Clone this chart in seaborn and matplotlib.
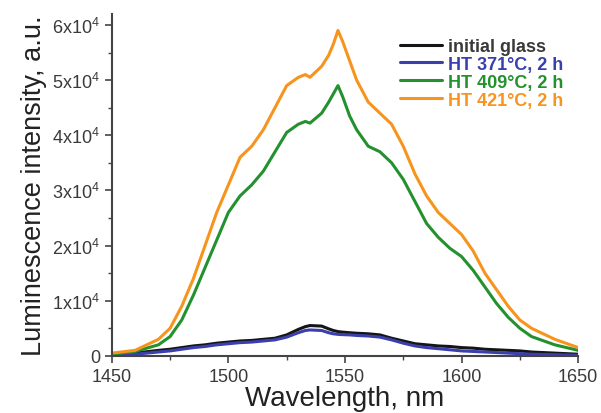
import numpy as np
import pandas as pd
import seaborn as sns
import matplotlib
matplotlib.use("Agg")
import matplotlib.pyplot as plt
from matplotlib.ticker import FixedLocator, MultipleLocator

sns.set_theme(style="white")
plt.rcParams['font.family'] = ['Liberation Sans', 'DejaVu Sans']
plt.rcParams['mathtext.fontset'] = 'custom'
plt.rcParams['mathtext.rm'] = 'Liberation Sans'
plt.rcParams['mathtext.it'] = 'Liberation Sans'

wl = [1450, 1460, 1470, 1475, 1480, 1485, 1490, 1495, 1500, 1505, 1510, 1515,
      1520, 1525, 1530, 1533, 1535, 1540, 1543, 1545, 1547, 1549, 1552, 1555,
      1560, 1565, 1570, 1575, 1580, 1585, 1590, 1595, 1600, 1605, 1610, 1615,
      1620, 1625, 1630, 1640, 1650]
orange = [0.05, 0.1, 0.3, 0.5, 0.9, 1.4, 2.0, 2.6, 3.1, 3.6, 3.8, 4.1,
          4.5, 4.9, 5.05, 5.1, 5.05, 5.25, 5.45, 5.65, 5.9, 5.7, 5.35, 5.0,
          4.6, 4.4, 4.2, 3.8, 3.3, 2.9, 2.6, 2.4, 2.2, 1.9, 1.5, 1.2,
          0.9, 0.65, 0.5, 0.3, 0.15]
green = [0.03, 0.08, 0.2, 0.35, 0.65, 1.1, 1.6, 2.1, 2.6, 2.9, 3.1, 3.35,
         3.7, 4.05, 4.2, 4.25, 4.22, 4.4, 4.6, 4.75, 4.9, 4.7, 4.35, 4.1,
         3.8, 3.7, 3.5, 3.2, 2.8, 2.4, 2.15, 1.95, 1.8, 1.55, 1.25, 0.95,
         0.7, 0.5, 0.35, 0.2, 0.1]
black = [0.02, 0.05, 0.1, 0.12, 0.15, 0.18, 0.2, 0.23, 0.25, 0.27, 0.28, 0.3,
         0.32, 0.38, 0.48, 0.53, 0.55, 0.54, 0.49, 0.46, 0.44, 0.43, 0.42, 0.41,
         0.4, 0.38, 0.32, 0.27, 0.22, 0.2, 0.18, 0.17, 0.15, 0.14, 0.12, 0.11,
         0.1, 0.09, 0.07, 0.05, 0.03]
blue = [0.01, 0.03, 0.07, 0.09, 0.12, 0.15, 0.17, 0.2, 0.22, 0.24, 0.25, 0.27,
        0.29, 0.34, 0.42, 0.46, 0.47, 0.46, 0.42, 0.4, 0.39, 0.385, 0.38, 0.37,
        0.36, 0.34, 0.29, 0.23, 0.18, 0.15, 0.13, 0.11, 0.09, 0.08, 0.07, 0.06,
        0.05, 0.04, 0.03, 0.02, 0.01]

labels = ["initial glass", "HT 371°C, 2 h", "HT 409°C, 2 h", "HT 421°C, 2 h"]
colors = ["#151515", "#3b3fae", "#24912f", "#f7941d"]
text_colors = ["#3a3a3a", "#3b3fae", "#24912f", "#f7941d"]
series = [black, blue, green, orange]

rows = []
for lab, vals in zip(labels, series):
    for w, v in zip(wl, vals):
        rows.append({"wl": w, "I": v * 1e4, "sample": lab})
df = pd.DataFrame(rows)

fig = plt.figure(figsize=(6.01, 4.14), dpi=100)
ax = fig.add_axes([0.186, 0.138, 0.776, 0.826])
sns.lineplot(data=df, x="wl", y="I", hue="sample", hue_order=labels,
             palette=colors, linewidth=2.2, ax=ax, legend=False)

ax.set_xlim(1450, 1650)
ax.set_ylim(0, 6.2e4)
ax.xaxis.set_major_locator(FixedLocator([1450, 1500, 1550, 1600, 1650]))
ax.xaxis.set_minor_locator(MultipleLocator(25))
ax.yaxis.set_major_locator(FixedLocator([0, 1e4, 2e4, 3e4, 4e4, 5e4, 6e4]))
ax.yaxis.set_minor_locator(MultipleLocator(0.5e4))
ax.set_xticklabels(["1450", "1500", "1550", "1600", "1650"])
ax.set_yticklabels(["0"] + [f"{i}x10$^4$" for i in range(1, 7)])
ax.tick_params(axis='both', which='major', direction='out', length=5, width=1.2,
               labelsize=13, colors='#444444', labelcolor='#3a3a3a', bottom=True, left=True)
ax.tick_params(axis='both', which='minor', direction='out', length=3, width=1.0,
               colors='#444444', bottom=True, left=True)
for s in ['top', 'right']:
    ax.spines[s].set_visible(False)
for s in ['left', 'bottom']:
    ax.spines[s].set_color('#444444')
    ax.spines[s].set_linewidth(1.5)

ax.set_xlabel("Wavelength, nm", fontsize=20, color='#222222', labelpad=0)
ax.set_ylabel("Luminescence intensity, a.u.", fontsize=19.5, color='#222222', labelpad=4)

handles = [plt.Line2D([], [], color=c, linewidth=2.2) for c in colors]
leg = ax.legend(handles, labels, loc='upper right', bbox_to_anchor=(0.968, 0.93),
                frameon=False, fontsize=13, handlelength=2.3, handletextpad=0.35,
                labelspacing=0.05, borderaxespad=0.0, borderpad=0.0)
for t, c in zip(leg.get_texts(), text_colors):
    t.set_color(c)
    t.set_fontweight('bold')

fig.savefig("out.png", dpi=100)
